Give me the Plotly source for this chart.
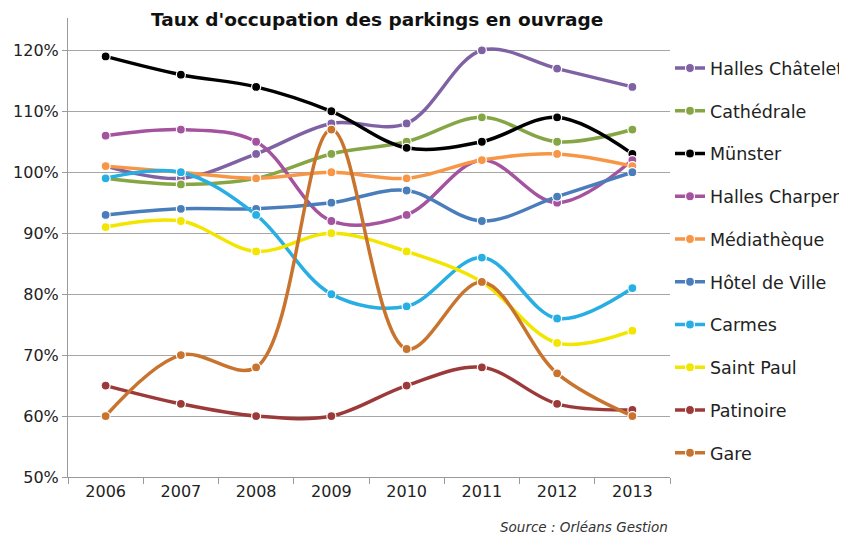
import plotly.graph_objects as go

# data (occupancy rate, %)
years = ["2006", "2007", "2008", "2009", "2010", "2011", "2012", "2013"]

halles_chatelet = [101, 99, 103, 108, 108, 120, 117, 114]
cathedrale = [99, 98, 99, 103, 105, 109, 105, 107]
munster = [119, 116, 114, 110, 104, 105, 109, 103]
halles_charpentier = [106, 107, 105, 92, 93, 102, 95, 102]
mediatheque = [101, 100, 99, 100, 99, 102, 103, 101]
hotel_de_ville = [93, 94, 94, 95, 97, 92, 96, 100]
carmes = [99, 100, 93, 80, 78, 86, 76, 81]
saint_paul = [91, 92, 87, 90, 87, 82, 72, 74]
patinoire = [65, 62, 60, 60, 65, 68, 62, 61]
gare = [60, 70, 68, 107, 71, 82, 67, 60]

series = [
    ("Halles Châtelet", halles_chatelet, "#7E62A3"),
    ("Cathédrale", cathedrale, "#86A544"),
    ("Münster", munster, "#000000"),
    ("Halles Charpentier", halles_charpentier, "#A4539F"),
    ("Médiathèque", mediatheque, "#F79646"),
    ("Hôtel de Ville", hotel_de_ville, "#4A7EBB"),
    ("Carmes", carmes, "#27AEE3"),
    ("Saint Paul", saint_paul, "#F2E600"),
    ("Patinoire", patinoire, "#9C3A3A"),
    ("Gare", gare, "#C8742E"),
]

FONT = "DejaVu Sans"

fig = go.Figure()
for i, (name, vals, col) in enumerate(series):
    fig.add_trace(go.Scatter(
        x=years, y=vals, name=name, legendgroup=f"g{i}",
        mode="lines+markers",
        line=dict(color=col, width=3.5, shape="spline", smoothing=1),
        marker=dict(size=9, color=col, line=dict(color="white", width=1.2)),
    ))

# page body adds an 8px offset, so the figure is a bit smaller than the window
fig.update_layout(
    width=839, height=528,
    margin=dict(l=60, r=177, t=10, b=59, autoexpand=False),
    paper_bgcolor="white", plot_bgcolor="white",
    font=dict(family=FONT, size=16, color="#222222"),
    showlegend=True,
    legend=dict(x=1.0, xanchor="left", y=0.93, yanchor="top",
                font=dict(size=17.5, color="#222222"), maxheight=600,
                tracegroupgap=17, itemwidth=30, bgcolor="rgba(0,0,0,0)"),
)
fig.add_annotation(text="<b>Taux d'occupation des parkings en ouvrage</b>",
                   xref="paper", yref="paper", x=0.5 + 8 / 602, y=1.0 - 2 / 459,
                   xanchor="center", yanchor="middle", showarrow=False,
                   font=dict(size=18.5, color="#111111"))
fig.add_annotation(text="<i>Source : Orléans Gestion</i>",
                   xref="paper", yref="paper", x=1.0, y=-0.108,
                   xanchor="right", yanchor="middle", showarrow=False,
                   font=dict(size=13.5, color="#333333"))

fig.update_xaxes(
    type="category", showline=True, linecolor="#9A9A9A", linewidth=1,
    ticks="outside", tickson="boundaries", ticklen=6, tickcolor="#9A9A9A",
    showgrid=False, tickfont=dict(size=16), range=[-0.5, 7.5],
)
fig.update_yaxes(
    range=[50, 125.3], tickvals=[50, 60, 70, 80, 90, 100, 110, 120],
    ticktext=["50%", "60%", "70%", "80%", "90%", "100%", "110%", "120%"],
    showline=True, linecolor="#9A9A9A", linewidth=1,
    ticks="outside", ticklen=5, tickcolor="#9A9A9A",
    showgrid=True, gridcolor="#A6A6A6", gridwidth=1,
    zeroline=False, tickfont=dict(size=16),
)

fig.write_html("out.html")
